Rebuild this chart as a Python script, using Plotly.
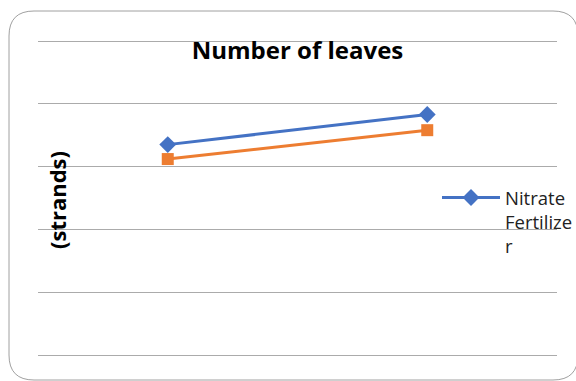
import plotly.graph_objects as go

categories = ["Week 1", "Week 2"]
nitrate = [33.5, 38.3]
other = [31.2, 35.8]
series_names = ["Nitrate Fertilizer", "Other Fertilizer"]

W, H = 576, 381
ml, mr, mt, mb = 38, 19, 39, 24
pw, ph = W - ml - mr, H - mt - mb
ymin, ymax = 0, 50
pad = (ymax - ymin) * 2 / (ph - 4)

def px(x):
    return (x - ml) / pw

def py(y):
    return (H - mb - y) / ph

fig = go.Figure()
fig.add_trace(go.Scatter(
    x=categories, y=nitrate, name="Nitrate<br>Fertilize<br>r",
    mode="lines+markers",
    line=dict(color="#4472C4", width=3),
    marker=dict(symbol="diamond", size=13, color="#4472C4"),
))
fig.add_trace(go.Scatter(
    x=categories, y=other, name=series_names[1], showlegend=False,
    mode="lines+markers",
    line=dict(color="#ED7D31", width=3),
    marker=dict(symbol="square", size=12, color="#ED7D31"),
))

# rounded border
x0, x1, y0, y1 = 9, 578, 11, 380
r = 25
path = (f"M {px(x0)} {py(y0 + r)} Q {px(x0)} {py(y0)} {px(x0 + r)} {py(y0)} "
        f"L {px(x1 - r)} {py(y0)} Q {px(x1)} {py(y0)} {px(x1)} {py(y0 + r)} "
        f"L {px(x1)} {py(y1 - r)} Q {px(x1)} {py(y1)} {px(x1 - r)} {py(y1)} "
        f"L {px(x0 + r)} {py(y1)} Q {px(x0)} {py(y1)} {px(x0)} {py(y1 - r)} Z")
fig.add_shape(type="path", xref="paper", yref="paper", path=path,
              line=dict(color="#a0a0a0", width=1), layer="below")

fig.add_annotation(text="<b>(strands)</b>", textangle=-90, xref="paper", yref="paper",
                   x=px(57), y=py(200), xanchor="center", yanchor="middle", showarrow=False,
                   font=dict(size=22, color="black", family="Open Sans"))

fig.update_layout(
    width=W, height=H,
    margin=dict(l=ml, r=mr, t=mt, b=mb, autoexpand=False),
    paper_bgcolor="white", plot_bgcolor="white",
    title=dict(text="<b>Number of leaves</b>", xref="paper", x=0.5, xanchor="center",
               y=1 - 51 / H, yanchor="middle",
               font=dict(size=24, color="black", family="Open Sans")),
    font=dict(family="Open Sans", size=18, color="#222"),
    xaxis=dict(type="category", range=[-0.5, 1.5], showgrid=False, showticklabels=False,
               showline=False, zeroline=False, ticks=""),
    yaxis=dict(range=[ymin - pad, ymax + pad], dtick=10, showgrid=True, gridcolor="#ababab",
               gridwidth=1, showticklabels=False, zeroline=False, showline=False, ticks=""),
    legend=dict(x=px(437), y=py(179), xanchor="left", yanchor="top", valign="top",
                itemwidth=58,
                bgcolor="rgba(0,0,0,0)", font=dict(size=18.5, family="Open Sans", color="#222"),
                tracegroupgap=0),
    showlegend=True,
)

fig.write_html("out.html")
